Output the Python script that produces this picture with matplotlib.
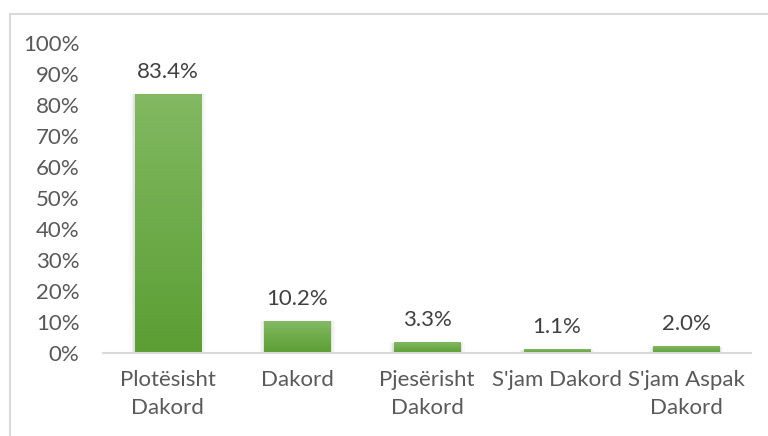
import numpy as np
import matplotlib.pyplot as plt
from matplotlib.colors import LinearSegmentedColormap
from matplotlib.patches import Rectangle

# Data
categories = ['Plotësisht\nDakord', 'Dakord', 'Pjesërisht\nDakord', "S'jam Dakord", "S'jam Aspak\nDakord"]
values = [83.4, 10.2, 3.3, 1.1, 2.0]
value_labels = ['83.4%', '10.2%', '3.3%', '1.1%', '2.0%']
yticks = [0, 10, 20, 30, 40, 50, 60, 70, 80, 90, 100]

plt.rcParams['font.family'] = ['Lato', 'DejaVu Sans']
txt = '#595959'

fig = plt.figure(figsize=(7.68, 4.36), dpi=100)
ax = fig.add_axes([103/768, 1 - 353/436, 648/768, 310/436])

x = np.arange(len(categories))
bars = ax.bar(x, values, width=0.51, color='none', zorder=2)

# gradient fill for each bar, light on top, darker at bottom
cmap = LinearSegmentedColormap.from_list('g', ['#5b9e33', '#82b962'])
grad = np.linspace(0, 1, 256).reshape(-1, 1)
for b in bars:
    x0, y0 = b.get_x(), b.get_y()
    w, h = b.get_width(), b.get_height()
    # soft shadow on the sides
    for k, a in enumerate([0.06, 0.035, 0.02]):
        d = 0.012 * (k + 1)
        ax.add_patch(Rectangle((x0 - d, y0), w + 2 * d, h, color='black',
                               alpha=a, lw=0, zorder=1))
    ax.imshow(grad, extent=[x0, x0 + w, y0, y0 + h], origin='lower', cmap=cmap,
              aspect='auto', zorder=2)

for xi, v, lab in zip(x, values, value_labels):
    ax.annotate(lab, (xi, v), xytext=(0, 9), textcoords='offset points',
                ha='center', va='bottom', fontsize=16, color='#404040')

ax.set_xlim(-0.5, len(categories) - 0.5)
ax.set_ylim(0, 100)
ax.set_yticks(yticks)
ax.set_yticklabels([f'{t}%' for t in yticks])
ax.set_xticks(x)
ax.set_xticklabels(categories, linespacing=1.55)
ax.tick_params(axis='both', length=0, labelsize=16, labelcolor=txt)
ax.tick_params(axis='y', pad=17)
ax.tick_params(axis='x', pad=12)
for s in ['top', 'right', 'left']:
    ax.spines[s].set_visible(False)
ax.spines['bottom'].set_color('#d9d9d9')
ax.spines['bottom'].set_linewidth(1.5)

# chart border
fig.add_artist(Rectangle((10/768, -0.1), 1.0, 1 - 14/436 + 0.1, transform=fig.transFigure,
                         fill=False, edgecolor='#d9d9d9', lw=1.5))

fig.savefig('out.png', dpi=100)
